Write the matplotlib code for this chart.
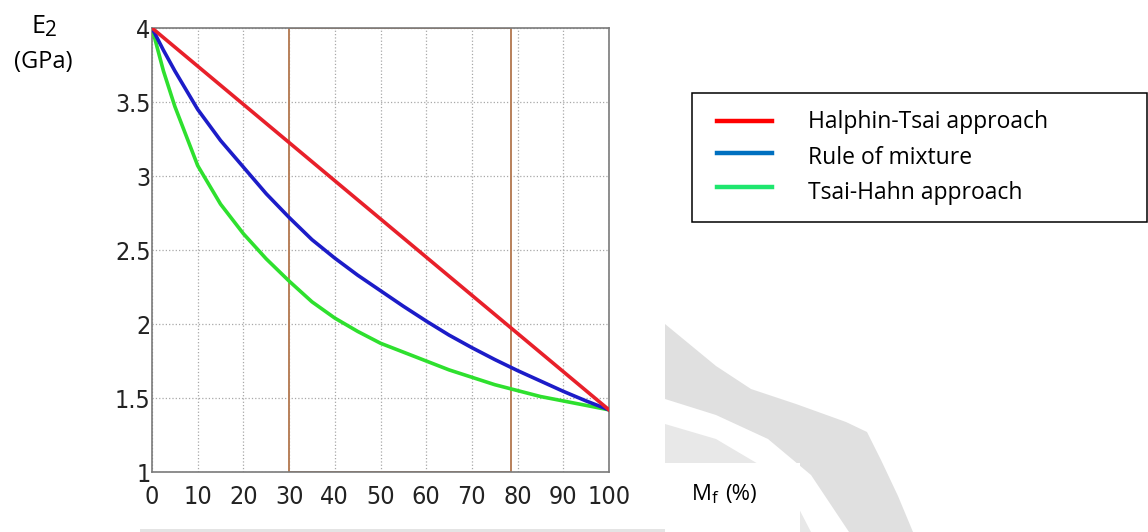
import matplotlib
matplotlib.use('Agg')
import matplotlib.pyplot as plt
from matplotlib.patches import Rectangle, Polygon
from matplotlib.lines import Line2D

# data
mf = [0, 2.5, 5, 10, 15, 20, 25, 30, 35, 40, 45, 50, 55, 60, 65, 70, 75, 80, 85, 90, 95, 100]
rule_of_mixture = [4.0, 3.85, 3.71, 3.45, 3.24, 3.06, 2.88, 2.72, 2.57, 2.445, 2.33, 2.225,
                   2.12, 2.02, 1.925, 1.84, 1.76, 1.685, 1.615, 1.545, 1.48, 1.42]
tsai_hahn = [4.0, 3.71, 3.47, 3.07, 2.81, 2.61, 2.44, 2.29, 2.15, 2.04, 1.95, 1.87, 1.81,
             1.75, 1.69, 1.64, 1.59, 1.55, 1.51, 1.48, 1.45, 1.42]
# Halphin-Tsai is a straight line between its end values
ht_mf = [0, 100]
halphin_tsai = [4.0, 1.42]

x_ticks = [0, 10, 20, 30, 40, 50, 60, 70, 80, 90, 100]
y_ticks = [1, 1.5, 2, 2.5, 3, 3.5, 4]
y_tick_labels = ['1', '1.5', '2', '2.5', '3', '3.5', '4']

# highlighted range of Mf
region_start = 30
region_end = 78.5

legend_labels = ['Halphin-Tsai approach', 'Rule of mixture', 'Tsai-Hahn approach']
legend_colors = ['#ff0000', '#0070c0', '#1ee66e']

W, H = 1148, 532
fig = plt.figure(figsize=(W / 100, H / 100), dpi=100)

# background / overlay layer in pixel coordinates
bg = fig.add_axes([0, 0, 1, 1], zorder=0)
bg.set_xlim(0, W)
bg.set_ylim(H, 0)
bg.axis('off')

# watermark behind the picture
outer_band = [(665, 324), (716, 366), (751, 389), (796, 404), (846, 422), (867, 432),
              (881, 460), (898, 496), (913, 532), (849, 532), (839, 517), (811, 475),
              (768, 439), (716, 415), (665, 399)]
inner_band = [(665, 424), (716, 439), (765, 468), (796, 503), (811, 532), (665, 532)]
bg.add_patch(Polygon(outer_band, closed=True, fc='#e0e0e0', ec='none'))
bg.add_patch(Polygon(inner_band, closed=True, fc='#e8e8e8', ec='none'))
bg.add_patch(Rectangle((140, 529), 525, 3, fc='#e4e4e4', ec='none'))

# white box under the x label
bg.add_patch(Rectangle((665, 463), 135, 69, fc='white', ec='none'))

txt_font = ['Open Sans', 'DejaVu Sans']
bg.text(32, 33, 'E', fontsize=18, family=txt_font, ha='left', va='baseline')
bg.text(45, 36, '2', fontsize=15, family=txt_font, ha='left', va='baseline')
bg.text(43, 68, '(GPa)', fontsize=17, family=txt_font, ha='center', va='baseline')

bg.text(692, 500, 'M', fontsize=16, family=txt_font, ha='left', va='baseline')
bg.text(712, 503, 'f', fontsize=12, family=txt_font, ha='left', va='baseline')
bg.text(725, 500, '(%)', fontsize=16, family=txt_font, ha='left', va='baseline')

# legend drawn as a separate box, like in the reference
bg.add_patch(Rectangle((692, 93), 454.5, 129, fc='white', ec='black', lw=1.1))
line_ys = [121, 153, 187]
text_ys = [128, 164, 199]
for lab, col, ly, ty in zip(legend_labels, legend_colors, line_ys, text_ys):
    bg.add_line(Line2D([717, 772], [ly, ly], color=col, lw=3.2))
    bg.text(808, ty, lab, fontsize=16.5, family=txt_font, ha='left', va='baseline')

# main plot
ax = fig.add_axes([152 / W, 1 - 472 / H, (609 - 152) / W, (472 - 28) / H], zorder=1)
ax.set_xlim(0, 100)
ax.set_ylim(1, 4)

ax.grid(True, linestyle=':', color='#a8a8a8', linewidth=0.9)
ax.set_axisbelow(True)

ax.add_patch(Rectangle((region_start, 1), region_end - region_start, 3,
                       fc='none', ec='#b8805a', lw=1.4, zorder=2))

ax.plot(mf, tsai_hahn, color='#2ee02e', lw=2.6, zorder=3, solid_joinstyle='round')
ax.plot(mf, rule_of_mixture, color='#1c1cc8', lw=2.6, zorder=4, solid_joinstyle='round')
ax.plot(ht_mf, halphin_tsai, color='#e8202a', lw=2.6, zorder=5)

for sp in ax.spines.values():
    sp.set_color('#7a7a7a')
    sp.set_linewidth(1.2)

# narrow tick digits as in the MATLAB export
ax.set_xticks(x_ticks)
ax.set_xticklabels([str(t) for t in x_ticks], family='DejaVu Sans',
                   fontstretch='condensed', fontsize=18)
ax.set_yticks(y_ticks)
ax.set_yticklabels(y_tick_labels, family='DejaVu Sans',
                   fontstretch='condensed', fontsize=18)
ax.tick_params(axis='x', length=0, pad=9, colors='#222222')
ax.tick_params(axis='y', length=0, pad=1, colors='#222222')

fig.savefig('out.png', dpi=100)
